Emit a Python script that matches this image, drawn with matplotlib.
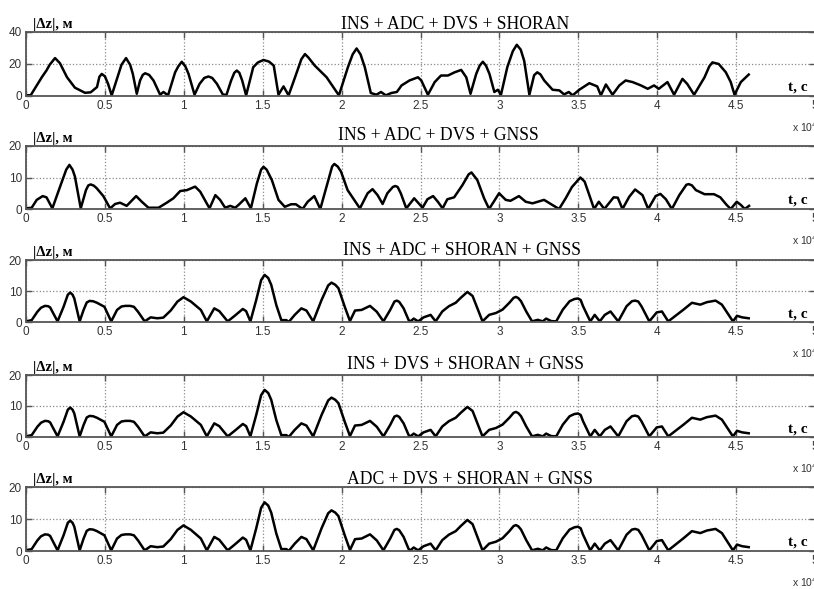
import matplotlib
matplotlib.use('Agg')
import matplotlib.pyplot as plt

# |dz| error curves, t in units of 1e4 s
t1 = [0, 0.03, 0.10, 0.13, 0.15, 0.184, 0.215, 0.26, 0.31, 0.374, 0.41, 0.45, 0.465, 0.48, 0.50, 0.52,
      0.543, 0.586, 0.605, 0.634, 0.66, 0.677, 0.702, 0.723, 0.74, 0.755, 0.78, 0.808, 0.85, 0.871,
      0.90, 0.945, 0.965, 0.987, 1.01, 1.03, 1.068, 1.10, 1.13, 1.156, 1.18, 1.21, 1.247, 1.27, 1.30,
      1.32, 1.336, 1.352, 1.37, 1.395, 1.44, 1.47, 1.505, 1.54, 1.57, 1.60, 1.632, 1.664, 1.705, 1.745,
      1.768, 1.79, 1.83, 1.905, 1.983, 2.04, 2.07, 2.095, 2.12, 2.147, 2.185, 2.22, 2.25, 2.28, 2.316,
      2.35, 2.38, 2.43, 2.484, 2.505, 2.547, 2.59, 2.63, 2.674, 2.716, 2.758, 2.79, 2.817, 2.853,
      2.875, 2.895, 2.915, 2.937, 2.968, 2.99, 3.01, 3.05, 3.085, 3.11, 3.135, 3.157, 3.19, 3.22,
      3.24, 3.26, 3.284, 3.337, 3.38, 3.41, 3.44, 3.464, 3.506, 3.57, 3.62, 3.643, 3.675, 3.717,
      3.76, 3.80, 3.844, 3.897, 3.94, 3.98, 4.01, 4.065, 4.107, 4.16, 4.19, 4.234, 4.30, 4.33, 4.35,
      4.39, 4.435, 4.466, 4.49, 4.53, 4.58]
z1 = [0.4, 0.5, 11.7, 16, 19.5, 23.7, 20.5, 11.7, 5.2, 2, 2.3, 5.6, 12, 13.8, 12.3, 7.6,
      0.4, 13.8, 19.5, 23.7, 19.5, 13.8, 1.4, 9.7, 13.2, 14.2, 13.2, 9.7, 0.8, 2.5,
      0.4, 14.8, 18.5, 21.4, 18.5, 13.8, 0.8, 7.6, 11.3, 12.2, 11.3, 7.6, 1, 0.6, 9.7,
      14.5, 15.9, 14.5, 9.7, 0.4, 18, 21, 22.5, 21.5, 19, 0.8, 6, 0.4, 11.7, 23,
      26.2, 24, 19, 11.7, 0.4, 18, 26, 29.7, 26, 18, 1.9, 0.8, 2.5, 0.4, 1.9,
      2.5, 6.6, 9.7, 11.7, 9.7, 0.8, 8.7, 12.8, 12.8, 14.8, 16.3, 11.7, 1.4, 13.8,
      19, 21.4, 19, 13.8, 2.5, 3.9, 0.8, 18, 28, 32, 29, 22, 0.8, 13,
      14.8, 13.5, 9.7, 3.9, 3.5, 1, 2.5, 0.4, 3.9, 8, 6, 0.4, 7.2, 0.8,
      6.6, 9.7, 8.7, 6.6, 4.5, 6.6, 4.5, 8.7, 0.8, 10.7, 7.6, 0.8, 11.7, 18.5, 21,
      20, 14.8, 8.7, 0.8, 8.7, 13.4]

t2 = [0, 0.036, 0.068, 0.106, 0.13, 0.167, 0.216, 0.255, 0.275, 0.295, 0.31, 0.347, 0.38, 0.395,
      0.41, 0.43, 0.448, 0.49, 0.533, 0.565, 0.596, 0.638, 0.698, 0.734, 0.776, 0.84, 0.892, 0.934,
      0.977, 1.02, 1.072, 1.104, 1.163, 1.20, 1.23, 1.262, 1.294, 1.326, 1.347, 1.39, 1.425, 1.463,
      1.49, 1.505, 1.525, 1.558, 1.60, 1.64, 1.68, 1.71, 1.753, 1.785, 1.827, 1.865, 1.91, 1.94,
      1.954, 1.975, 1.996, 2.038, 2.116, 2.165, 2.196, 2.228, 2.26, 2.29, 2.325, 2.34, 2.355, 2.375,
      2.41, 2.46, 2.513, 2.544, 2.58, 2.61, 2.64, 2.67, 2.713, 2.766, 2.805, 2.823, 2.86, 2.903,
      2.935, 2.998, 3.04, 3.07, 3.124, 3.167, 3.21, 3.283, 3.335, 3.378, 3.42, 3.46, 3.513, 3.54,
      3.57, 3.60, 3.63, 3.665, 3.724, 3.75, 3.78, 3.823, 3.86, 3.907, 3.943, 3.99, 4.02, 4.055,
      4.093, 4.14, 4.185, 4.20, 4.22, 4.245, 4.30, 4.36, 4.40, 4.44, 4.466, 4.504, 4.53, 4.555, 4.582]
z2 = [0.2, 0.4, 2.9, 4.1, 3.7, 0.2, 7.1, 12.5, 14, 12.5, 10.3, 0.2, 6, 7.5,
      7.8, 7.4, 6.6, 4.1, 0.2, 1.6, 2, 1, 4.1, 2.3, 0.4, 0.4, 2, 3.4,
      5.7, 6, 7.1, 5.5, 0.2, 4.4, 2.9, 0.4, 1, 0.4, 1.3, 3.4, 0.2, 8.1,
      12.5, 13.4, 12.5, 9.2, 2.9, 0.7, 1.5, 1.5, 0, 2.3, 4.1, 0, 8.1, 13.5,
      14.3, 13.5, 11.9, 6, 0.2, 5, 6.3, 4.4, 1.6, 5, 7, 7.3, 7, 5,
      0.2, 3.4, 0.4, 3.1, 4.1, 2.3, 0.2, 3.1, 3.7, 7.6, 11, 11.6, 9.2, 3.4,
      0, 5, 2.9, 2.6, 4.1, 2.3, 1.8, 2.9, 1.3, 0, 3.4, 7, 10, 8.7,
      4.4, 0, 2.3, 0, 3.7, 3.6, 0, 3.9, 6.2, 4.4, 0, 4.1, 4.8, 3.1,
      0, 4.4, 7.7, 7.9, 7.5, 6, 4.7, 4.7, 3.7, 1.3, 0, 2.3, 1.3, 0, 1]

t3 = [0, 0.036, 0.072, 0.095, 0.12, 0.14, 0.153, 0.2, 0.238, 0.265, 0.28, 0.295, 0.306, 0.34, 0.365,
      0.385, 0.403, 0.425, 0.45, 0.497, 0.54, 0.577, 0.605, 0.63, 0.66, 0.684, 0.71, 0.752, 0.79,
      0.832, 0.87, 0.917, 0.96, 0.998, 1.045, 1.108, 1.146, 1.193, 1.225, 1.278, 1.32, 1.374, 1.395,
      1.422, 1.459, 1.49, 1.512, 1.535, 1.554, 1.586, 1.618, 1.65, 1.665, 1.703, 1.745, 1.777, 1.82,
      1.873, 1.915, 1.936, 1.96, 1.98, 2.02, 2.053, 2.085, 2.127, 2.18, 2.223, 2.265, 2.308, 2.335,
      2.35, 2.365, 2.393, 2.425, 2.436, 2.457, 2.485, 2.52, 2.564, 2.596, 2.638, 2.68, 2.723, 2.755,
      2.797, 2.83, 2.86, 2.893, 2.935, 2.978, 3.02, 3.063, 3.09, 3.105, 3.12, 3.137, 3.17, 3.207,
      3.243, 3.275, 3.296, 3.328, 3.36, 3.402, 3.445, 3.475, 3.498, 3.515, 3.53, 3.576, 3.604, 3.636,
      3.668, 3.704, 3.753, 3.806, 3.84, 3.86, 3.88, 3.90, 3.95, 3.997, 4.03, 4.07, 4.124, 4.167,
      4.22, 4.273, 4.315, 4.37, 4.41, 4.453, 4.48, 4.506, 4.538, 4.58]
z3 = [0.2, 0.6, 3.3, 4.6, 5.2, 5.1, 4.7, 0.2, 4.9, 8.8, 9.5, 8.8, 7.6, 0.2, 3.9,
      6.3, 6.8, 6.7, 6.2, 4.9, 0.2, 3.9, 5.0, 5.2, 5.2, 4.9, 3.3, 0.2, 1.5,
      1.2, 1.4, 3.7, 6.6, 8, 6.6, 3.9, 0.2, 4.4, 3.5, 0.2, 1.9, 4.2, 3.5,
      0.2, 7.1, 13.5, 15.2, 14.2, 12, 5.5, 0.6, 0.6, 0, 2.3, 4.4, 3.7, 0.2,
      7.1, 11.8, 12.7, 12, 10.9, 4.9, 0.3, 3.7, 3.9, 5.2, 3.3, 0.2, 3.9, 6.6,
      6.9, 6.5, 4.4, 0.6, 0.2, 1.1, 0.2, 1.5, 2.3, 0.2, 3.4, 5.1, 6.2, 7.8,
      9.7, 8.4, 4.5, 0.2, 2.3, 2.9, 4, 6.2, 7.8, 8.1, 7.7, 6.7, 3.4, 0.2,
      0.7, 0.2, 1.1, 0.3, 0.2, 4, 6.7, 7.4, 7.6, 7.1, 5.1, 0.2, 2.3, 0.2,
      2.3, 3.4, 0.2, 5.1, 6.7, 6.9, 6.6, 5.1, 0.2, 3.1, 3.4, 0.2, 2.3, 4,
      6.2, 5.6, 6.4, 6.9, 5.6, 2.3, 0.2, 2, 1.5, 1.2]

# panels 4 and 5 read the same as panel 3 within the picture's resolution
t4 = t3
z4 = z3
t5 = t3
z5 = z3

titles = ['INS + ADC + DVS + SHORAN', 'INS + ADC + DVS + GNSS', 'INS + ADC + SHORAN + GNSS',
          'INS + DVS + SHORAN + GNSS', 'ADC + DVS + SHORAN + GNSS']
ymax = [40, 20, 20, 20, 20]
xticks = [0, 0.5, 1, 1.5, 2, 2.5, 3, 3.5, 4, 4.5, 5]
xlabels = ['0', '0.5', '1', '1.5', '2', '2.5', '3', '3.5', '4', '4.5', '5']

ts = [t1, t2, t3, t4, t5]
zs = [z1, z2, z3, z4, z5]

W, H = 814.0, 589.0
boxes = [(32, 96), (146, 209), (260, 322), (375, 437), (487, 551)]  # top, bottom in px
title_x = [341, 338, 343, 347, 347]
title_base = [29, 140, 255, 369, 484]

fig = plt.figure(figsize=(W / 100, H / 100), dpi=100)

for i in range(5):
    top, bot = boxes[i]
    ax = fig.add_axes([26 / W, 1 - bot / H, 789 / W, (bot - top) / H])
    ax.plot(ts[i], zs[i], color='black', lw=1.8, solid_joinstyle='round')
    ax.set_xlim(0, 5)
    ax.set_ylim(0, ymax[i])
    ax.set_xticks(xticks)
    ax.set_xticklabels(xlabels)
    ax.set_yticks([0, ymax[i] / 2, ymax[i]])
    ax.set_yticklabels(['0', str(ymax[i] // 2), str(ymax[i])])
    ax.grid(True, ls=':', color='#8a8a8a', lw=0.9)
    ax.tick_params(direction='in', top=True, right=True, length=4, width=1, color='#555555',
                   labelsize=8.5, labelcolor='#333333', pad=3)
    for lab in ax.get_xticklabels() + ax.get_yticklabels():
        lab.set_family('Liberation Sans')
    for sp in ax.spines.values():
        sp.set_color('#555555')
        sp.set_linewidth(1.3)

    fig.text(title_x[i] / W, 1 - title_base[i] / H, titles[i], family='Liberation Serif',
             fontsize=12.7, va='baseline', ha='left')
    fig.text(33 / W, 1 - (top - 4) / H, '|\u0394z|, \u043c', family='Liberation Serif',
             fontsize=10.5, fontweight='bold', va='baseline', ha='left')
    ax.text(0.966, 0.08, 't, c', transform=ax.transAxes, family='Liberation Serif',
            fontsize=11, fontweight='bold', va='baseline', ha='left')
    # the multiplier sits at the cropped right edge, as in the source figure
    fig.text(792 / W, 1 - (bot + 36) / H, 'x 10$^4$', family='Liberation Sans',
             fontsize=7.5, color='#333333', va='baseline', ha='left')

plt.savefig('out.png', dpi=100)
